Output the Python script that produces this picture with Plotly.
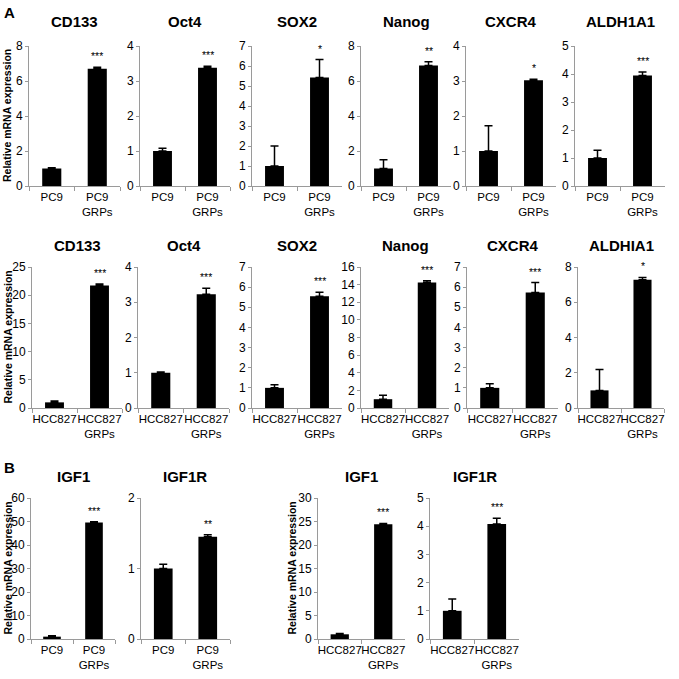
import plotly.graph_objects as go

W = H = 679

# ---------------- data ----------------
# Row 1: PC9 vs PC9 GRPs
row1_genes = ["CD133", "Oct4", "SOX2", "Nanog", "CXCR4", "ALDH1A1"]
row1_cats = ["PC9", "PC9<br>GRPs"]
row1_ctrl = [1.0, 1.0, 1.0, 1.0, 1.0, 1.0]
row1_ctrl_err = [0.05, 0.08, 1.0, 0.5, 0.72, 0.28]
row1_grp = [6.7, 3.38, 5.42, 6.88, 3.02, 3.95]
row1_grp_err = [0.08, 0.04, 0.9, 0.22, 0.03, 0.12]
row1_sig = ["***", "***", "*", "**", "*", "***"]
row1_ymax = [8, 4, 7, 8, 4, 5]
row1_dtick = [2, 1, 1, 2, 1, 1]

# Row 2: HCC827 vs HCC827 GRPs
row2_genes = ["CD133", "Oct4", "SOX2", "Nanog", "CXCR4", "ALDHIA1"]
row2_cats = ["HCC827", "HCC827<br>GRPs"]
row2_ctrl = [1.0, 1.0, 1.0, 1.0, 1.0, 1.0]
row2_ctrl_err = [0.25, 0.02, 0.15, 0.45, 0.2, 1.18]
row2_grp = [21.7, 3.23, 5.55, 14.25, 5.73, 7.28]
row2_grp_err = [0.3, 0.17, 0.2, 0.2, 0.5, 0.13]
row2_sig = ["***", "***", "***", "***", "***", "*"]
row2_ymax = [25, 4, 7, 16, 7, 8]
row2_dtick = [5, 1, 1, 2, 1, 2]

# Row 3 (B): IGF1 / IGF1R
row3_genes = ["IGF1", "IGF1R", "IGF1", "IGF1R"]
row3_cats = [["PC9", "PC9<br>GRPs"], ["PC9", "PC9<br>GRPs"],
             ["HCC827", "HCC827<br>GRPs"], ["HCC827", "HCC827<br>GRPs"]]
row3_ctrl = [1.0, 1.0, 1.0, 1.0]
row3_ctrl_err = [0.4, 0.06, 0.15, 0.42]
row3_grp = [49.6, 1.45, 24.4, 4.08]
row3_grp_err = [0.3, 0.03, 0.2, 0.2]
row3_sig = ["***", "**", "***", "***"]
row3_ymax = [60, 2, 30, 5]
row3_dtick = [10, 1, 5, 1]

ylabel = "Relative mRNA expression"

# ---------------- layout geometry (pixels) ----------------
row1_x = [(29, 120), (140, 230), (252, 342), (361, 451), (466, 556), (575, 665)]
row2_x = [(32, 122), (138, 229), (252, 342), (361, 449), (467, 558), (578, 664)]
row3_x = [(31, 115), (141, 230), (318, 405), (430, 519)]
row_y = [(46, 186), (267, 408), (498, 639)]
title_y = [22, 245, 477]

FONT = "Liberation Sans"
AX = "#9a9a9a"

fig = go.Figure()
annotations = []
layout_axes = {}


def px_x(p):
    return p / W


def px_y(p):
    return 1 - p / H


panels = []
for i in range(6):
    panels.append((row1_x[i], row_y[0], title_y[0], row1_genes[i], row1_cats,
                   row1_ctrl[i], row1_ctrl_err[i], row1_grp[i], row1_grp_err[i],
                   row1_sig[i], row1_ymax[i], row1_dtick[i]))
for i in range(6):
    panels.append((row2_x[i], row_y[1], title_y[1], row2_genes[i], row2_cats,
                   row2_ctrl[i], row2_ctrl_err[i], row2_grp[i], row2_grp_err[i],
                   row2_sig[i], row2_ymax[i], row2_dtick[i]))
for i in range(4):
    panels.append((row3_x[i], row_y[2], title_y[2], row3_genes[i], row3_cats[i],
                   row3_ctrl[i], row3_ctrl_err[i], row3_grp[i], row3_grp_err[i],
                   row3_sig[i], row3_ymax[i], row3_dtick[i]))

for k, (xr, yr, ty, gene, cats, c, ce, g, ge, sig, ymax, dt) in enumerate(panels):
    n = k + 1
    xa = "x" if n == 1 else f"x{n}"
    ya = "y" if n == 1 else f"y{n}"
    fig.add_trace(go.Bar(
        x=cats, y=[c, g], xaxis=xa, yaxis=ya,
        marker=dict(color="black", line=dict(width=0)),
        width=0.42,
        error_y=dict(type="data", symmetric=False, array=[ce, ge], arrayminus=[0, 0],
                     color="black", thickness=1.5, width=4),
        showlegend=False, hoverinfo="skip",
    ))
    xkey = "xaxis" if n == 1 else f"xaxis{n}"
    ykey = "yaxis" if n == 1 else f"yaxis{n}"
    layout_axes[xkey] = dict(
        domain=[px_x(xr[0]), px_x(xr[1])], anchor=ya, automargin=False,
        type="category", range=[-0.5, 1.5], tickson="boundaries",
        showline=True, linecolor=AX, linewidth=1,
        ticks="outside", ticklen=4, tickcolor=AX, tickwidth=1,
        showgrid=False, zeroline=False, tickangle=0,
        tickfont=dict(family=FONT, size=11.5, color="black"),
        fixedrange=True,
    )
    layout_axes[ykey] = dict(
        domain=[px_y(yr[1]), px_y(yr[0])], anchor=xa, automargin=False,
        range=[0, ymax], tick0=0, dtick=dt,
        showline=True, linecolor=AX, linewidth=1,
        ticks="outside", ticklen=3, tickcolor=AX, tickwidth=1,
        showgrid=False, zeroline=False,
        tickfont=dict(family=FONT, size=12, color="black"),
        fixedrange=True,
    )
    # title
    annotations.append(dict(
        text=f"<b>{gene}</b>", x=px_x((xr[0] + xr[1]) / 2), y=px_y(ty),
        xref="paper", yref="paper", showarrow=False,
        xanchor="center", yanchor="middle",
        font=dict(family=FONT, size=15, color="black"),
    ))
    # significance
    annotations.append(dict(
        text=sig, x=cats[1], y=g + ge, xref=xa, yref=ya, showarrow=False,
        xanchor="center", yanchor="bottom", yshift=3,
        font=dict(family=FONT, size=10.5, color="black"),
    ))

# y-axis titles
for (px, yr) in [(7, row_y[0]), (7, row_y[1]), (7, row_y[2]), (291, row_y[2])]:
    annotations.append(dict(
        text=f"<b>{ylabel}</b>", x=px_x(px), y=px_y((yr[0] + yr[1]) / 2),
        xref="paper", yref="paper", showarrow=False, textangle=-90,
        xanchor="center", yanchor="middle",
        font=dict(family=FONT, size=10.5, color="black"),
    ))

# panel letters
for letter, (px, py) in [("A", (9, 12)), ("B", (9, 467))]:
    annotations.append(dict(
        text=f"<b>{letter}</b>", x=px_x(px), y=px_y(py),
        xref="paper", yref="paper", showarrow=False,
        xanchor="center", yanchor="middle",
        font=dict(family=FONT, size=15, color="black"),
    ))

fig.update_layout(
    width=W, height=H,
    margin=dict(l=0, r=0, t=0, b=0, autoexpand=False),
    paper_bgcolor="white", plot_bgcolor="white",
    annotations=annotations,
    bargap=0.58,
    **layout_axes,
)

fig.write_html(
    "out.html",
    config={"displayModeBar": False},
    post_script="document.body.style.margin='0';document.body.style.padding='0';"
                "document.body.style.overflow='hidden';",
)
